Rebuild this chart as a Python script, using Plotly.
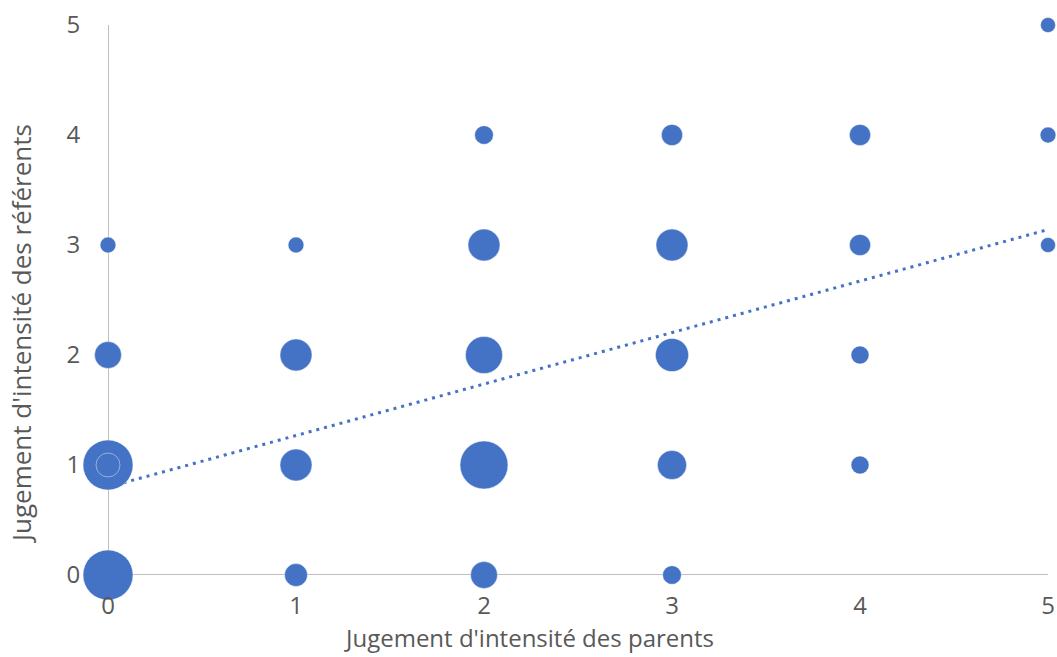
import plotly.graph_objects as go

# Data
parents = [0, 0, 0, 0, 1, 1, 1, 1, 2, 2, 2, 2, 2, 3, 3, 3, 3, 3, 4, 4, 4, 4, 5, 5, 5, 0]
referents = [0, 1, 2, 3, 0, 1, 2, 3, 0, 1, 2, 3, 4, 0, 1, 2, 3, 4, 1, 2, 3, 4, 3, 4, 5, 1]
bubble_size = [10.0, 10.0, 2.9, 1.0, 2.1, 4.1, 4.1, 1.0, 2.9, 9.2, 5.5, 4.1, 1.4,
               1.4, 3.4, 4.4, 4.1, 1.8, 1.3, 1.3, 1.8, 1.8, 0.9, 1.0, 0.9, 2.3]
trend_x = [0, 5]
trend_y = [0.80, 3.14]

x_ticks = [0, 1, 2, 3, 4, 5]
y_ticks = [0, 1, 2, 3, 4, 5]
x_title = "Jugement d'intensité des parents"
y_title = "Jugement d'intensité des référents"

BLUE = "#4472C4"
MAX_D = 50

W, H = 1057, 657
PX0, PX1 = 108, 1048   # plot area in pixels
PY0, PY1 = 25, 575

fig = go.Figure()
fig.add_trace(go.Scatter(
    x=trend_x, y=trend_y, mode="lines",
    line=dict(color=BLUE, width=3, dash="3px,5px"),
    hoverinfo="skip", showlegend=False, cliponaxis=False,
))
fig.add_trace(go.Scatter(
    x=parents, y=referents, mode="markers",
    marker=dict(size=bubble_size, sizemode="area",
                sizeref=2 * max(bubble_size) / MAX_D ** 2,
                color=BLUE, opacity=1,
                line=dict(color="rgba(255,255,255,0.55)", width=0.8)),
    showlegend=False, cliponaxis=False,
))

tickfont = dict(family="Open Sans", size=24, color="#595959")
pw, ph = PX1 - PX0, PY1 - PY0
fig.update_layout(
    width=W, height=H, autosize=False,
    margin=dict(l=PX0, r=W - PX1, t=PY0, b=H - PY1, pad=0),
    paper_bgcolor="white", plot_bgcolor="white",
    xaxis=dict(range=[0, 5], tickvals=x_ticks, showgrid=False, zeroline=False,
               showline=False, tickfont=tickfont, ticks="outside", ticklen=9,
               tickcolor="rgba(0,0,0,0)", fixedrange=True, automargin=False,
               ticklabeloverflow="allow"),
    yaxis=dict(range=[0, 5], tickvals=y_ticks, showgrid=False, zeroline=False,
               showline=False, tickfont=tickfont, ticks="outside", ticklen=22,
               tickcolor="rgba(0,0,0,0)", fixedrange=True, automargin=False,
               ticklabeloverflow="allow"),
    shapes=[
        dict(type="line", xref="x", yref="y", x0=0, x1=5, y0=0, y1=0,
             line=dict(color="#BFBFBF", width=2), layer="below"),
        dict(type="line", xref="x", yref="y", x0=0, x1=0, y0=0, y1=5,
             line=dict(color="#BFBFBF", width=2), layer="below"),
    ],
    annotations=[
        dict(text=x_title, xref="paper", yref="paper", x=(528.5 - 108) / pw,
             y=-(637 - 575) / ph, xanchor="center", yanchor="middle",
             showarrow=False, font=dict(family="Open Sans", size=24, color="#595959")),
        dict(text=y_title, xref="paper", yref="paper", x=-(108 - 21) / pw,
             y=(575 - 334) / ph, xanchor="center", yanchor="middle", textangle=-90,
             showarrow=False, font=dict(family="Open Sans", size=26, color="#595959")),
    ],
)

fig.write_html(
    "out.html",
    config={"displayModeBar": False, "staticPlot": True},
    post_script="document.body.style.margin='0';document.body.style.overflow='hidden';",
)
